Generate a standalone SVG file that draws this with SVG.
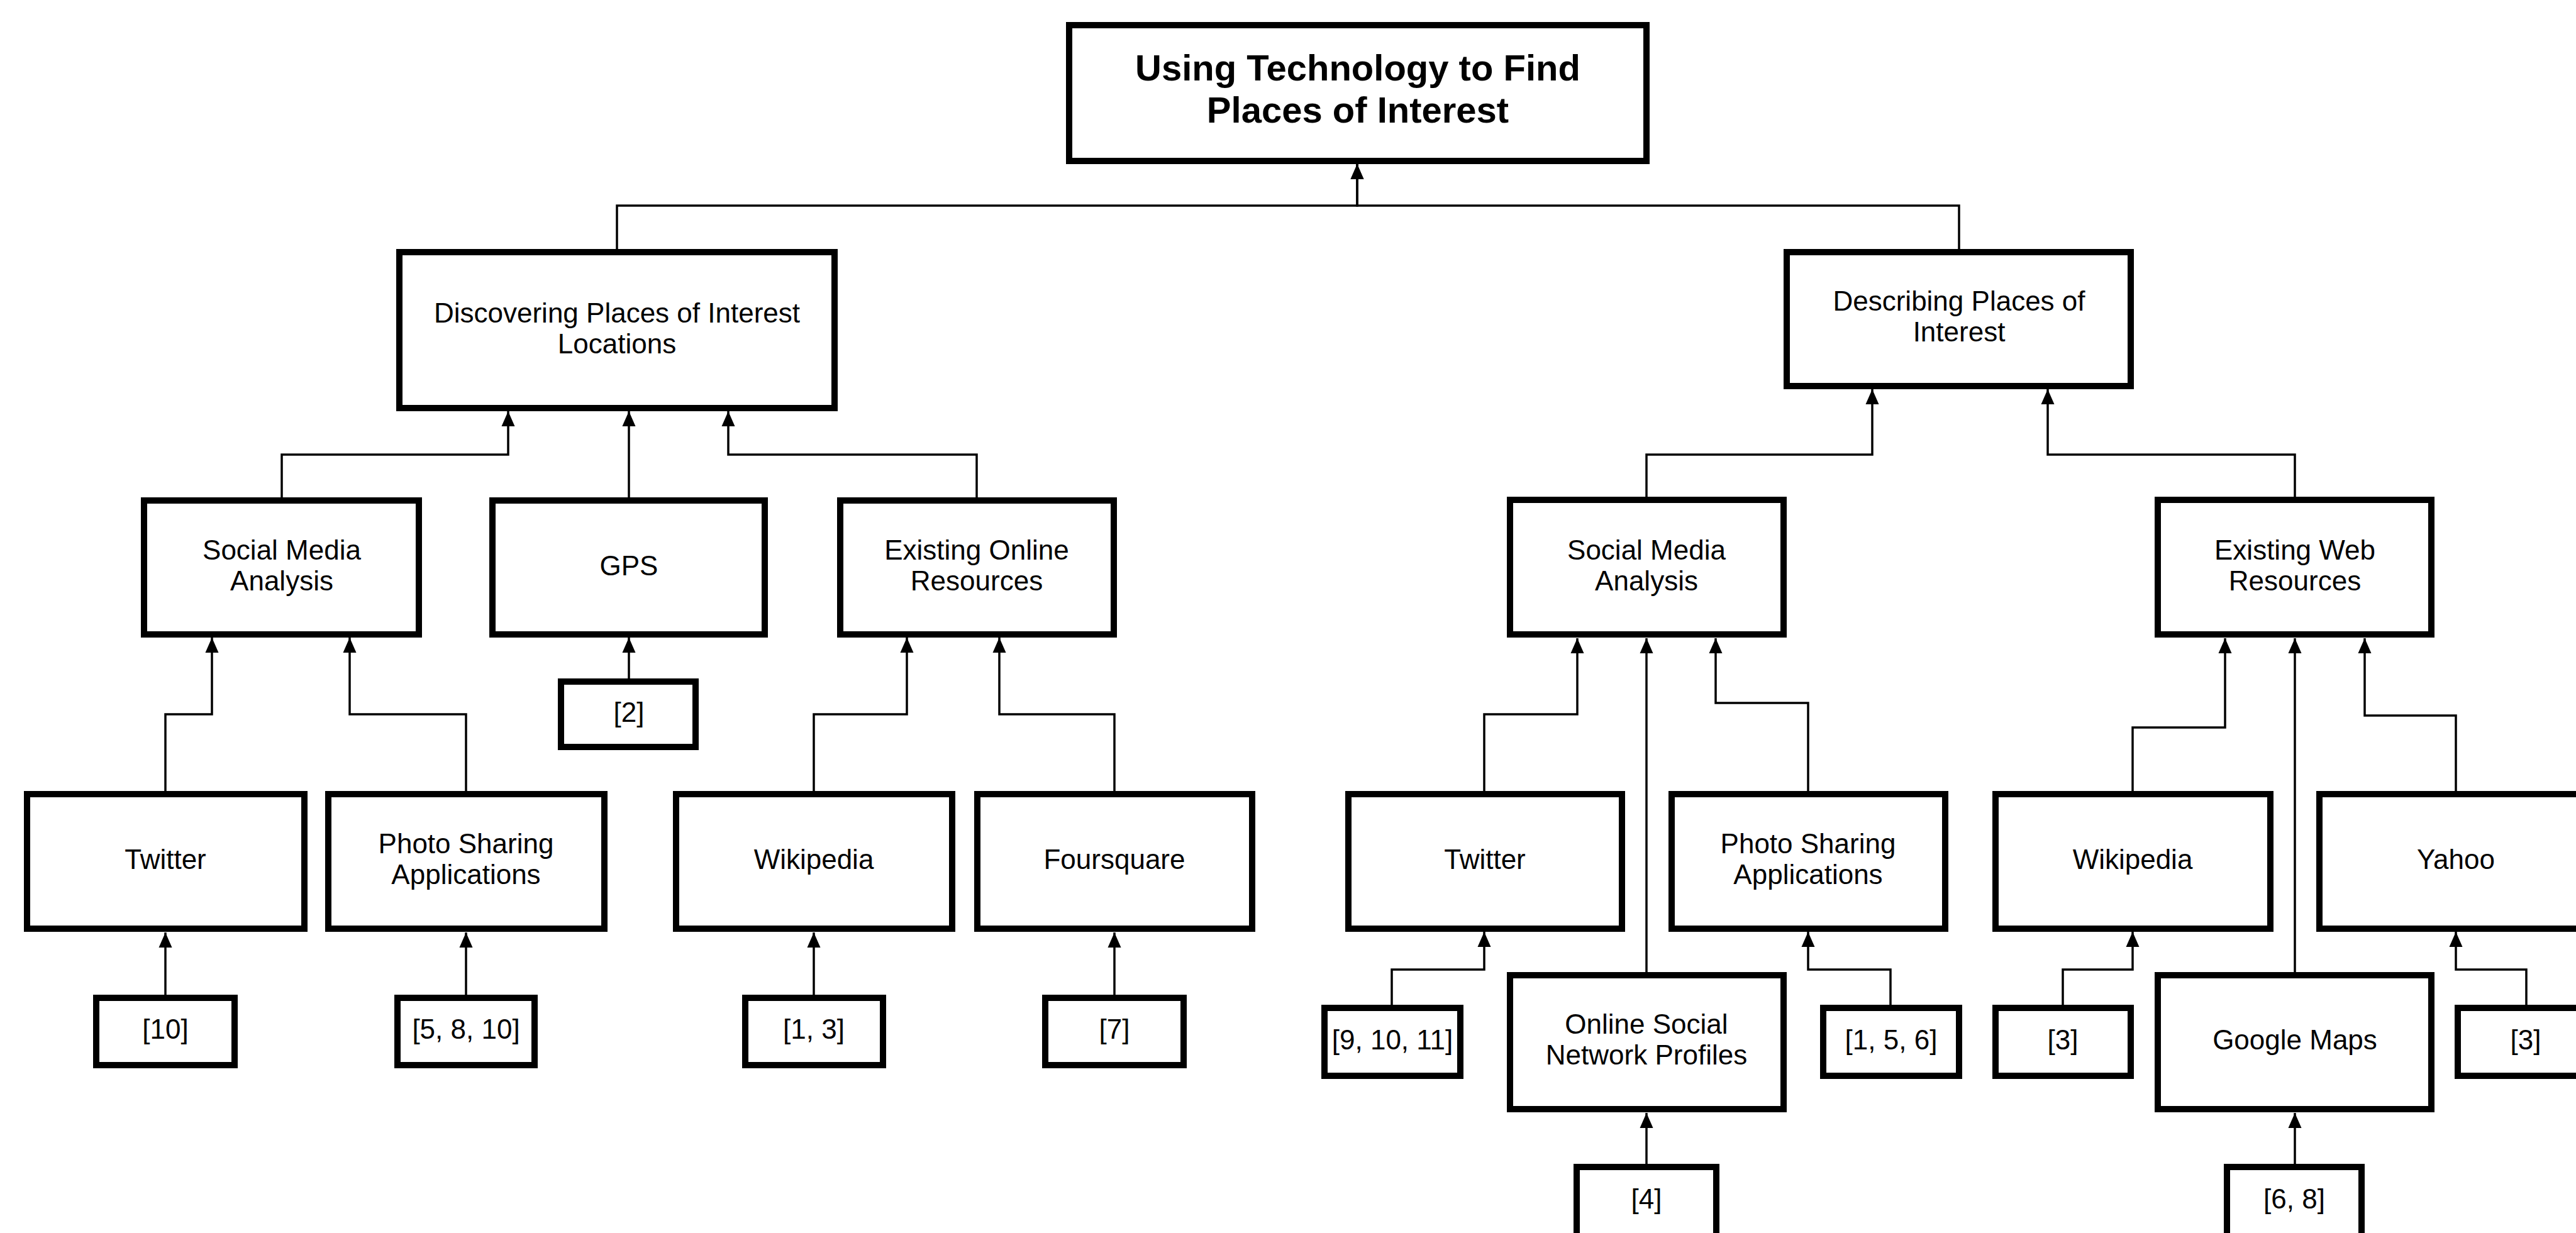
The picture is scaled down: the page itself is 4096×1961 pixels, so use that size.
<svg xmlns="http://www.w3.org/2000/svg" width="4096" height="1961" viewBox="0 0 4096 1961">
<style>
.box{fill:#fff;stroke:#000;stroke-width:10}
.t{font-family:"Liberation Sans",Arial,Helvetica,sans-serif;font-size:44px;fill:#000;text-anchor:middle}
.title{font-family:"Liberation Sans",Arial,Helvetica,sans-serif;font-size:58px;font-weight:bold;fill:#000;text-anchor:middle}
.c{fill:none;stroke:#000;stroke-width:3.5;marker-end:url(#arr)}
</style>
<defs>
<marker id="arr" markerUnits="userSpaceOnUse" markerWidth="24" markerHeight="24" refX="24" refY="12" orient="auto">
<path d="M0,1.5 L24,12 L0,22.5 Z" fill="#000"/>
</marker>
</defs>
<rect width="4096" height="1961" fill="#fff"/>
<g id="connectors">
<path class="c" d="M981 396 V327 H2158 V261"/>
<path class="c" d="M3115 396 V327 H2158 V261"/>
<path class="c" d="M448 791 V723 H808 V654"/>
<path class="c" d="M1000 791 V654"/>
<path class="c" d="M1553 791 V723 H1158 V654"/>
<path class="c" d="M263 1258 V1136 H337 V1014"/>
<path class="c" d="M741 1258 V1136 H556 V1014"/>
<path class="c" d="M1000 1079 V1014"/>
<path class="c" d="M1294 1258 V1136 H1442 V1014"/>
<path class="c" d="M1772 1258 V1136 H1589 V1014"/>
<path class="c" d="M263 1582 V1483"/>
<path class="c" d="M741 1582 V1483"/>
<path class="c" d="M1294 1582 V1483"/>
<path class="c" d="M1772 1582 V1483"/>
<path class="c" d="M2618 790 V723 H2977 V619"/>
<path class="c" d="M3649 790 V723 H3256 V619"/>
<path class="c" d="M2360 1258 V1136 H2508 V1015"/>
<path class="c" d="M2618 1546 V1015"/>
<path class="c" d="M2875 1258 V1118 H2728 V1015"/>
<path class="c" d="M3391 1258 V1157 H3538 V1015"/>
<path class="c" d="M3649 1546 V1015"/>
<path class="c" d="M3905 1258 V1138 H3760 V1015"/>
<path class="c" d="M2213 1598 V1542 H2360 V1482"/>
<path class="c" d="M3006 1598 V1542 H2875 V1482"/>
<path class="c" d="M3280 1598 V1542 H3391 V1482"/>
<path class="c" d="M4017 1598 V1542 H3905 V1482"/>
<path class="c" d="M2618 1851 V1770"/>
<path class="c" d="M3649 1851 V1770"/>
</g>
<g id="root"><rect class="box" x="1700" y="40" width="918" height="216"/><text class="title" x="2159" y="128">Using Technology to Find</text><text class="title" x="2159" y="195">Places of Interest</text></g>
<g id="discovering"><rect class="box" x="635" y="401" width="692" height="248"/><text class="t" x="981" y="513">Discovering Places of Interest</text><text class="t" x="981" y="562">Locations</text></g>
<g id="describing"><rect class="box" x="2841" y="401" width="547" height="213"/><text class="t" x="3115" y="494">Describing Places of</text><text class="t" x="3115" y="543">Interest</text></g>
<g id="sma-left"><rect class="box" x="229" y="796" width="437" height="213"/><text class="t" x="448" y="890">Social Media</text><text class="t" x="448" y="939">Analysis</text></g>
<g id="gps"><rect class="box" x="783" y="796" width="433" height="213"/><text class="t" x="1000" y="915">GPS</text></g>
<g id="existing-online"><rect class="box" x="1336" y="796" width="435" height="213"/><text class="t" x="1553" y="890">Existing Online</text><text class="t" x="1553" y="939">Resources</text></g>
<g id="ref-2"><rect class="box" x="892" y="1084" width="214" height="104"/><text class="t" x="1000" y="1148">[2]</text></g>
<g id="twitter-left"><rect class="box" x="43" y="1263" width="441" height="214"/><text class="t" x="263" y="1382">Twitter</text></g>
<g id="photo-left"><rect class="box" x="522" y="1263" width="439" height="214"/><text class="t" x="741" y="1357">Photo Sharing</text><text class="t" x="741" y="1406">Applications</text></g>
<g id="wikipedia-left"><rect class="box" x="1075" y="1263" width="439" height="214"/><text class="t" x="1294" y="1382">Wikipedia</text></g>
<g id="foursquare"><rect class="box" x="1554" y="1263" width="437" height="214"/><text class="t" x="1772" y="1382">Foursquare</text></g>
<g id="ref-10"><rect class="box" x="153" y="1587" width="220" height="107"/><text class="t" x="263" y="1652">[10]</text></g>
<g id="ref-5-8-10"><rect class="box" x="632" y="1587" width="218" height="107"/><text class="t" x="741" y="1652">[5, 8, 10]</text></g>
<g id="ref-1-3"><rect class="box" x="1185" y="1587" width="219" height="107"/><text class="t" x="1294" y="1652">[1, 3]</text></g>
<g id="ref-7"><rect class="box" x="1662" y="1587" width="220" height="107"/><text class="t" x="1772" y="1652">[7]</text></g>
<g id="sma-right"><rect class="box" x="2401" y="795" width="435" height="214"/><text class="t" x="2618" y="890">Social Media</text><text class="t" x="2618" y="939">Analysis</text></g>
<g id="existing-web"><rect class="box" x="3431" y="795" width="435" height="214"/><text class="t" x="3649" y="890">Existing Web</text><text class="t" x="3649" y="939">Resources</text></g>
<g id="twitter-right"><rect class="box" x="2144" y="1263" width="435" height="214"/><text class="t" x="2361" y="1382">Twitter</text></g>
<g id="photo-right"><rect class="box" x="2658" y="1263" width="435" height="214"/><text class="t" x="2875" y="1357">Photo Sharing</text><text class="t" x="2875" y="1406">Applications</text></g>
<g id="wikipedia-right"><rect class="box" x="3173" y="1263" width="437" height="214"/><text class="t" x="3391" y="1382">Wikipedia</text></g>
<g id="yahoo"><rect class="box" x="3688" y="1263" width="435" height="214"/><text class="t" x="3905" y="1382">Yahoo</text></g>
<g id="ref-9-10-11"><rect class="box" x="2106" y="1603" width="216" height="108"/><text class="t" x="2214" y="1669">[9, 10, 11]</text></g>
<g id="online-social"><rect class="box" x="2401" y="1551" width="435" height="213"/><text class="t" x="2618" y="1644">Online Social</text><text class="t" x="2618" y="1693">Network Profiles</text></g>
<g id="ref-1-5-6"><rect class="box" x="2899" y="1603" width="216" height="108"/><text class="t" x="3007" y="1669">[1, 5, 6]</text></g>
<g id="ref-3-wiki"><rect class="box" x="3173" y="1603" width="215" height="108"/><text class="t" x="3280" y="1669">[3]</text></g>
<g id="google-maps"><rect class="box" x="3431" y="1551" width="435" height="213"/><text class="t" x="3649" y="1669">Google Maps</text></g>
<g id="ref-3-yahoo"><rect class="box" x="3908" y="1603" width="216" height="108"/><text class="t" x="4016" y="1669">[3]</text></g>
<g id="ref-4"><rect class="box" x="2507" y="1856" width="222" height="120"/><text class="t" x="2618" y="1922">[4]</text></g>
<g id="ref-6-8"><rect class="box" x="3541" y="1856" width="214" height="120"/><text class="t" x="3648" y="1922">[6, 8]</text></g>
</svg>
